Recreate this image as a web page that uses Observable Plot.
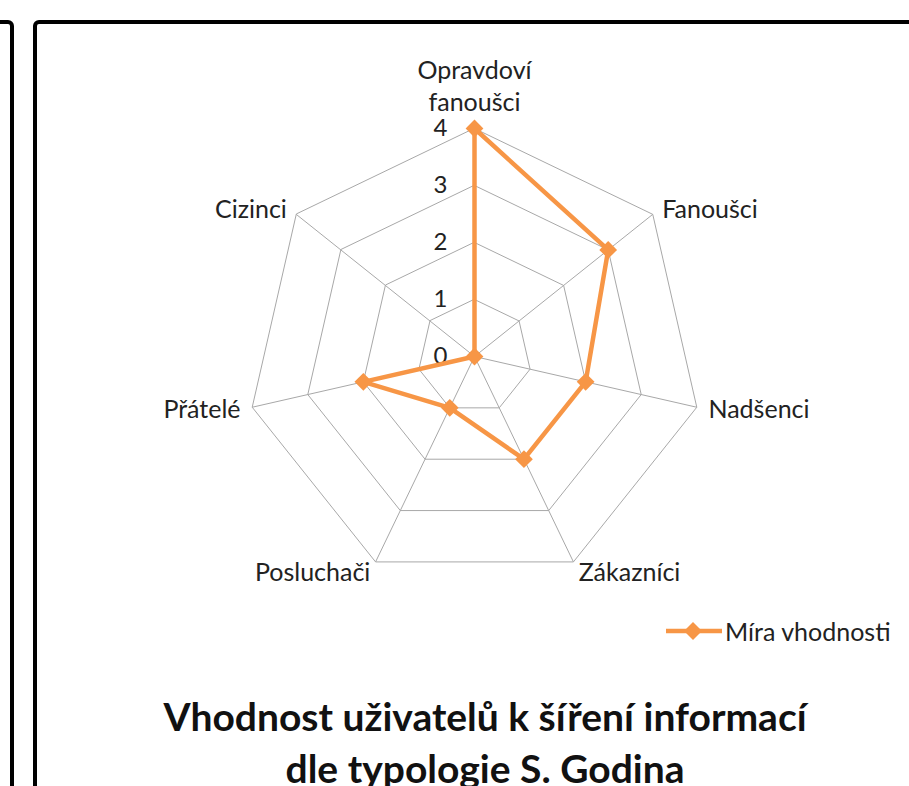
<!DOCTYPE html>
<html>
<head>
<meta charset="utf-8">
<script src="https://cdn.jsdelivr.net/npm/d3@7"></script>
<script src="https://cdn.jsdelivr.net/npm/@observablehq/plot@0.6"></script>
<style>
  html, body { margin: 0; padding: 0; background: #fff; overflow: hidden; }
  #wrap { position: relative; width: 909px; height: 786px; font-family: Lato, "Open Sans", sans-serif; }
  #chart { position: absolute; left: 0; top: 0; }
  .box { position: absolute; border: 4px solid #000; border-radius: 6px; box-sizing: border-box; }
  #legend { position: absolute; left: 664px; top: 616px; display: flex; align-items: center; font-size: 25px; color: #222; }
  #title { position: absolute; left: 0; width: 970px; top: 690px; text-align: center; font-weight: bold; font-size: 39px; line-height: 52px; color: #111; white-space: nowrap; }
</style>
</head>
<body>
<div id="wrap">
  <div class="box" style="left:-40px; top:20px; width:54px; height:900px;"></div>
  <div class="box" style="left:33px; top:20px; width:1000px; height:900px;"></div>
  <div id="chart"></div>
  <div id="legend">
    <svg width="60" height="20" style="margin-right:1px"><line x1="2" y1="10" x2="58" y2="10" stroke="#F79646" stroke-width="4.5"/><path d="M29,1 L38,10 L29,19 L20,10 Z" fill="#F79646"/></svg>
    <span>Míra vhodnosti</span>
  </div>
  <div id="title">Vhodnost uživatelů k šíření informací<br>dle typologie S. Godina</div>
</div>
<script>
const categories = ["Opravdoví\nfanoušci", "Fanoušci", "Nadšenci", "Zákazníci", "Posluchači", "Přátelé", "Cizinci"];
const values = [4, 3, 2, 2, 1, 2, 0];
const ticks = [0, 1, 2, 3, 4];
const seriesName = "Míra vhodnosti";

const n = categories.length;
const maxR = 4;
const angle = i => (i * 2 * Math.PI) / n;
const px = (i, r) => r * Math.sin(angle(i));
const py = (i, r) => r * Math.cos(angle(i));

const W = 909, H = 786, cx = 474, cy = 356, unit = 57;

const rings = [];
ticks.filter(t => t > 0).forEach(t => {
  categories.forEach((c, i) => rings.push({ring: t, x: px(i, t), y: py(i, t)}));
});
const spokes = categories.map((c, i) => ({x: px(i, maxR), y: py(i, maxR)}));
const pts = categories.map((c, i) => ({name: c, v: values[i], x: px(i, values[i]), y: py(i, values[i])}));

const orange = "#F79646";
const grid = "#A8A8A8";
const textColor = "#222";

// one text mark per category label; anchor and offsets derived from the axis angle
const labelMarks = categories.map((c, i) => {
  const s = Math.sin(angle(i)), co = Math.cos(angle(i));
  const top = Math.abs(s) < 0.1;
  return Plot.text([{name: c, x: px(i, maxR), y: py(i, maxR)}], {
    x: "x", y: "y", text: "name",
    textAnchor: s > 0.1 ? "start" : s < -0.1 ? "end" : "middle",
    lineAnchor: top ? "bottom" : "middle",
    dx: 12 * s,
    dy: top ? -18 : co > 0.3 ? -6 : co < -0.3 ? 9 : 1,
    fontSize: 25, lineHeight: 1.25, fill: textColor
  });
});

const chart = Plot.plot({
  width: W, height: H,
  margin: 0,
  x: {domain: [-cx / unit, (W - cx) / unit], range: [0, W], axis: null},
  y: {domain: [cy / unit, (cy - H) / unit], range: [0, H], axis: null},
  style: {fontFamily: "Lato, 'Open Sans', sans-serif", background: "transparent"},
  marks: [
    Plot.line(rings, {x: "x", y: "y", z: "ring", curve: "linear-closed", stroke: grid, strokeWidth: 1}),
    Plot.link(spokes, {x1: 0, y1: 0, x2: "x", y2: "y", stroke: grid, strokeWidth: 1}),
    Plot.text(ticks, {x: 0, y: d => d, text: d => String(d), dx: -34, fontSize: 24, fill: textColor}),
    Plot.line(pts, {x: "x", y: "y", curve: "linear-closed", stroke: orange, strokeWidth: 4.5}),
    Plot.dot(pts, {x: "x", y: "y", symbol: "diamond2", r: 8, fill: orange, stroke: "none"}),
    ...labelMarks
  ]
});
document.getElementById("chart").appendChild(chart);
</script>
</body>
</html>
